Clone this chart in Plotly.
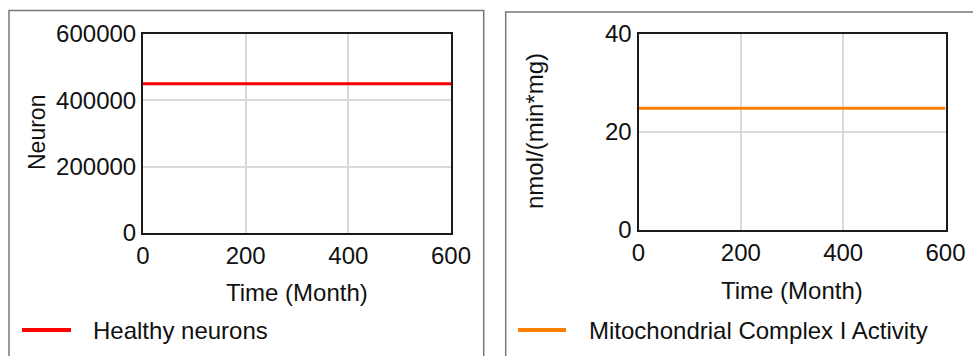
import plotly.graph_objects as go

W, H = 973, 356

time_months = [0, 600]
healthy_neurons = [450000, 450000]
complex1_activity = [24.8, 24.8]

x_ticks = [0, 200, 400, 600]
left_yticks = [0, 200000, 400000, 600000]
right_yticks = [0, 20, 40]

FONT = "Liberation Sans, Arial, sans-serif"
TICK_FS = 24
TITLE_FS = 24

def px(x):
    return x / W

def py(y):
    return (H - y) / H

fig = go.Figure()
fig.add_trace(go.Scatter(x=time_months, y=healthy_neurons, mode="lines",
                         line=dict(color="#ff0000", width=3), name="Healthy neurons",
                         xaxis="x", yaxis="y", showlegend=False))
fig.add_trace(go.Scatter(x=time_months, y=complex1_activity, mode="lines",
                         line=dict(color="#ff8000", width=3), name="Mitochondrial Complex I Activity",
                         xaxis="x2", yaxis="y2", showlegend=False))

axis_common = dict(showline=True, linecolor="#1a1a1a", linewidth=2, mirror=True,
                   showgrid=True, gridcolor="#dadada", gridwidth=1.5, zeroline=False,
                   automargin=False, ticks="",
                   tickfont=dict(family=FONT, size=TICK_FS, color="#111"))

fig.update_layout(
    width=W, height=H, margin=dict(l=0, r=0, t=0, b=0, pad=0),
    paper_bgcolor="white", plot_bgcolor="white",
    font=dict(family=FONT, size=TITLE_FS, color="#111"),
    xaxis=dict(domain=[px(143), px(451)], range=[0, 600], tickvals=x_ticks, anchor="y", **axis_common),
    yaxis=dict(domain=[py(233), py(34)], range=[0, 600000], tickvals=left_yticks, tickformat="d",
               anchor="x", **axis_common),
    xaxis2=dict(domain=[px(638.5), px(945.5)], range=[0, 600], tickvals=x_ticks, anchor="y2", **axis_common),
    yaxis2=dict(domain=[py(230), py(33.5)], range=[0, 40], tickvals=right_yticks, anchor="x2", **axis_common),
)

shapes = [
    dict(type="rect", xref="paper", yref="paper", x0=px(9), x1=px(483.7), y0=-0.05, y1=py(10.5),
         line=dict(color="#777", width=1.5), layer="below"),
    dict(type="rect", xref="paper", yref="paper", x0=px(505.7), x1=1.05, y0=-0.05, y1=py(12),
         line=dict(color="#777", width=1.5), layer="below"),
    dict(type="line", xref="paper", yref="paper", x0=px(22), x1=px(71), y0=py(330), y1=py(330),
         line=dict(color="#ff0000", width=4)),
    dict(type="line", xref="paper", yref="paper", x0=px(518), x1=px(566), y0=py(330), y1=py(330),
         line=dict(color="#ff8000", width=4)),
]
fig.update_layout(shapes=shapes)

ann = [
    dict(text="Time (Month)", x=px(297), y=py(292), font=dict(size=TITLE_FS)),
    dict(text="Time (Month)", x=px(792), y=py(290), font=dict(size=TITLE_FS)),
    dict(text="Neuron", x=px(37), y=py(133), textangle=-90, font=dict(size=23)),
    dict(text="nmol/(min*mg)", x=px(535), y=py(131), textangle=-90, font=dict(size=TITLE_FS)),
    dict(text="Healthy neurons", x=px(91), y=py(330), xanchor="left", font=dict(size=TITLE_FS)),
    dict(text="Mitochondrial Complex I Activity", x=px(587), y=py(330), xanchor="left",
         font=dict(size=TITLE_FS)),
]
for a in ann:
    a.setdefault("xanchor", "center")
    a.update(xref="paper", yref="paper", showarrow=False, yanchor="middle")
fig.update_layout(annotations=ann)

fig.write_html("out.html")
